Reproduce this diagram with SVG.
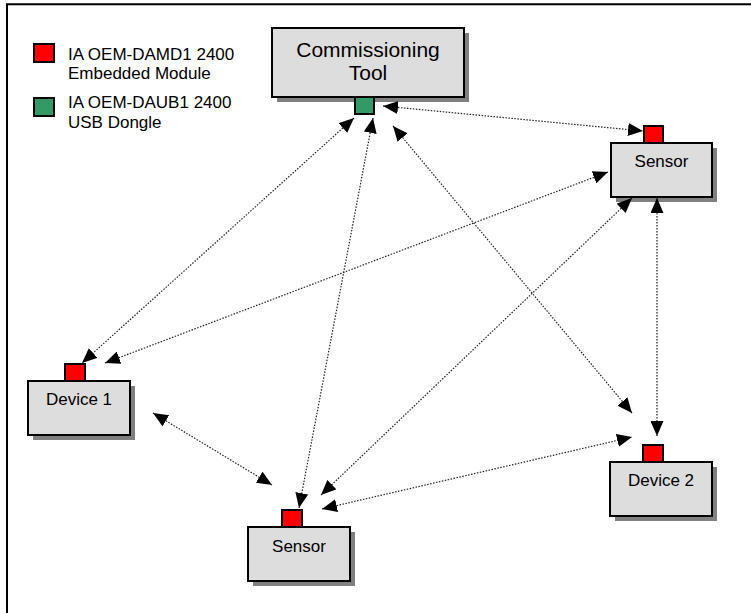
<svg xmlns="http://www.w3.org/2000/svg" width="751" height="613" viewBox="0 0 751 613">
<defs>
<style>
.frame{fill:none;stroke:#000;stroke-width:2}
.shadow{fill:#808080}
.box{fill:#DDDDDD;stroke:#000;stroke-width:2}
.red{fill:#FF0000;stroke:#000;stroke-width:2}
.green{fill:#339966;stroke:#000;stroke-width:2}
.lbl{font-family:"Liberation Sans",Arial,sans-serif;font-size:17px;fill:#000}
.big{font-family:"Liberation Sans",Arial,sans-serif;font-size:21px;fill:#000;text-anchor:middle}
.mid{text-anchor:middle}
.conn line{stroke:#222;stroke-width:1.2;stroke-dasharray:1.5 1.5;marker-start:url(#arr);marker-end:url(#arr)}
</style>
<marker id="arr" markerUnits="userSpaceOnUse" markerWidth="15" markerHeight="13" refX="15" refY="6.5" orient="auto-start-reverse" viewBox="0 0 15 13">
<path d="M0,0 L15,6.5 L0,13 z" fill="#000"/>
</marker>
</defs>
<rect width="751" height="613" fill="#fff"/>
<path class="frame" d="M7,613 V4.3 H751"/>

<g id="legend">
<rect class="red" x="34" y="44" width="20" height="18"/>
<text class="lbl" x="68" y="60">IA OEM-DAMD1 2400</text>
<text class="lbl" x="68" y="79">Embedded Module</text>
<rect class="green" x="34" y="98" width="20" height="18"/>
<text class="lbl" x="68" y="108">IA OEM-DAUB1 2400</text>
<text class="lbl" x="68" y="128">USB Dongle</text>
</g>

<g id="commissioning-tool">
<rect class="shadow" x="277" y="33" width="192" height="69"/>
<rect class="box" x="272" y="28" width="192" height="69"/>
<text class="big" x="368" y="57">Commissioning</text>
<text class="big" x="368" y="80">Tool</text>
<rect class="green" x="355" y="97" width="19" height="17"/>
</g>

<g id="sensor-top">
<rect class="shadow" x="616" y="148" width="101" height="54"/>
<rect class="box" x="611" y="143" width="101" height="54"/>
<text class="lbl mid" x="661.5" y="167">Sensor</text>
<rect class="red" x="644" y="126" width="19" height="17"/>
</g>

<g id="device-1">
<rect class="shadow" x="33" y="386" width="102" height="54"/>
<rect class="box" x="28" y="381" width="102" height="54"/>
<text class="lbl mid" x="79" y="405">Device 1</text>
<rect class="red" x="65" y="364" width="20" height="17"/>
</g>

<g id="sensor-bottom">
<rect class="shadow" x="253" y="532" width="102" height="54"/>
<rect class="box" x="248" y="527" width="102" height="54"/>
<text class="lbl mid" x="299" y="552">Sensor</text>
<rect class="red" x="282" y="510" width="20" height="17"/>
</g>

<g id="device-2">
<rect class="shadow" x="615" y="467" width="102" height="54"/>
<rect class="box" x="610" y="462" width="102" height="54"/>
<text class="lbl mid" x="661" y="486">Device 2</text>
<rect class="red" x="643" y="445" width="20" height="17"/>
</g>

<g id="connectors" class="conn">
<line x1="383" y1="106" x2="643" y2="131"/>
<line x1="354" y1="118" x2="82" y2="363"/>
<line x1="373" y1="118" x2="299" y2="508"/>
<line x1="393" y1="126" x2="632" y2="413"/>
<line x1="608" y1="172" x2="105" y2="363"/>
<line x1="632" y1="198" x2="321" y2="495"/>
<line x1="657" y1="198" x2="657" y2="436"/>
<line x1="153" y1="413" x2="272" y2="485"/>
<line x1="322" y1="509" x2="632" y2="437"/>
</g>
</svg>
